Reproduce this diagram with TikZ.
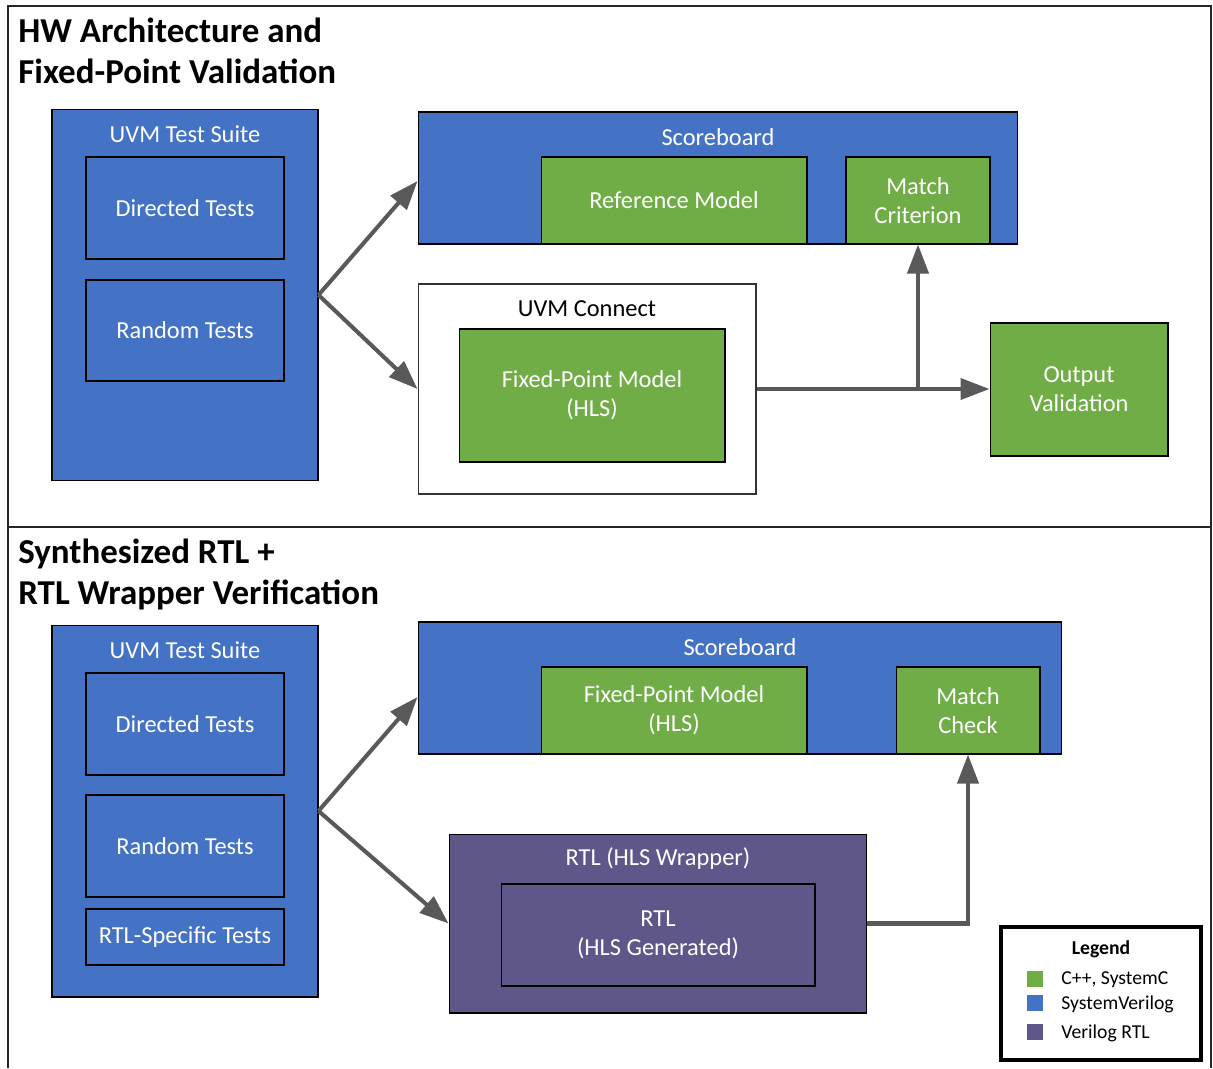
\documentclass[tikz,border=0pt]{standalone}
\usepackage{fontspec}
\setmainfont{Carlito}
\usetikzlibrary{arrows.meta, positioning, calc}

\definecolor{svblue}{HTML}{4472C4}
\definecolor{cppgreen}{HTML}{70AD47}
\definecolor{rtlpurple}{HTML}{5F578A}
\definecolor{arrowgray}{HTML}{595959}

\begin{document}
\begin{tikzpicture}[x=0.02cm, y=-0.02cm,
    boxtext/.style={font=\fontsize{13.9}{16.5}\selectfont, align=center, inner sep=0pt},
    bluebox/.style={draw=black, line width=0.6pt, fill=svblue, text=white, boxtext},
    greenbox/.style={draw=black, line width=0.6pt, fill=cppgreen, text=white, boxtext},
    purplebox/.style={draw=black, line width=0.6pt, fill=rtlpurple, text=white, boxtext},
    whitebox/.style={draw=black!80, line width=0.6pt, fill=white, boxtext},
    title/.style={font=\fontsize{19.9}{23.3}\selectfont\bfseries, align=left, anchor=north west, inner sep=0pt},
    flow/.style={draw=arrowgray, line width=2.3pt, -{Triangle[length=0.58cm, width=0.42cm]}},
    legendtext/.style={font=\fontsize{11.2}{13}\selectfont, anchor=west, inner sep=0pt}]
    \useasboundingbox (0,0) rectangle (1213,1068);

    % panels
    \draw[line width=1.1pt, black!85] (8,6) rectangle (1211,527);
    \draw[line width=1.1pt, black!85] (8,1068) -- (8,527) (1211,527) -- (1211,1068);
    \node[title] (title1) at (18,18) {HW Architecture and\\Fixed-Point Validation};
    \node[title] (title2) at (18,539) {Synthesized RTL +\\RTL Wrapper Verification};

    % top: HW architecture
    \node[bluebox, minimum width=5.32cm, minimum height=7.44cm] (suite1) at (185,295) {};
    \node[boxtext, text=white] (suite1lbl) at (185,134) {UVM Test Suite};
    \node[bluebox, minimum width=3.96cm, minimum height=2.04cm] (dir1) at (185,208) {Directed Tests};
    \node[bluebox, minimum width=3.96cm, minimum height=2.02cm] (rnd1) at (185,330.5) {Random Tests};

    \node[bluebox, minimum width=12cm, minimum height=2.64cm] (score1) at (718,178) {};
    \node[boxtext, text=white] (score1lbl) at (718,137) {Scoreboard};
    \node[greenbox, minimum width=5.32cm, minimum height=1.74cm] (ref1) at (674,200.5) {Reference Model};
    \node[greenbox, minimum width=2.88cm, minimum height=1.74cm] (match1) at (918,200.5) {Match\\Criterion};

    \node[whitebox, minimum width=6.76cm, minimum height=4.2cm] (conn1) at (587,389) {};
    \node[boxtext] (conn1lbl) at (587,309) {UVM Connect};
    \node[greenbox, minimum width=5.32cm, minimum height=2.66cm] (fxp1) at (592,395.5) {Fixed-Point Model\\(HLS)};

    \node[greenbox, minimum width=3.56cm, minimum height=2.66cm] (outv) at (1079,389.5) {Output\\Validation};

    \draw[flow] (suite1.east) -- ([yshift=-0.06cm]score1.west);
    \draw[flow] (suite1.east) -- (conn1.west);
    \draw[flow] (conn1.east) -- (conn1.east -| outv.west);
    \draw[flow] (conn1.east -| match1.south) -- (match1.south);

    % bottom: synthesized RTL
    \node[bluebox, minimum width=5.32cm, minimum height=7.44cm] (suite2) at (185,811) {};
    \node[boxtext, text=white] (suite2lbl) at (185,650) {UVM Test Suite};
    \node[bluebox, minimum width=3.96cm, minimum height=2.04cm] (dir2) at (185,724) {Directed Tests};
    \node[bluebox, minimum width=3.96cm, minimum height=2.04cm] (rnd2) at (185,846) {Random Tests};
    \node[bluebox, minimum width=3.96cm, minimum height=1.12cm] (rtls) at (185,937) {RTL-Specific Tests};

    \node[bluebox, minimum width=12.88cm, minimum height=2.64cm] (score2) at (740,688) {};
    \node[boxtext, text=white] (score2lbl) at (740,647) {Scoreboard};
    \node[greenbox, minimum width=5.32cm, minimum height=1.74cm] (fxp2) at (674,710.5) {Fixed-Point Model\\(HLS)};
    \node[greenbox, minimum width=2.88cm, minimum height=1.74cm] (match2) at (968,710.5) {Match\\Check};

    \node[purplebox, minimum width=8.36cm, minimum height=3.58cm] (wrap) at (658,923.5) {};
    \node[boxtext, text=white] (wraplbl) at (658,859) {RTL (HLS Wrapper)};
    \node[purplebox, minimum width=6.28cm, minimum height=2.04cm] (gen) at (658,935) {RTL\\(HLS Generated)};

    \draw[flow] (suite2.east) -- ([yshift=-0.18cm]score2.west);
    \draw[flow] (suite2.east) -- (wrap.west);
    \draw[flow] (wrap.east) -| (match2.south);

    % legend
    \node[draw=black, line width=2pt, fill=white, minimum width=4cm, minimum height=2.66cm] (legend) at (1101,993.5) {};
    \node[font=\fontsize{11.2}{13}\selectfont\bfseries, inner sep=0pt] (legendlbl) at (1101,949) {Legend};
    \node[fill=cppgreen, minimum size=0.32cm, inner sep=0pt] (keycpp) at (1035,979) {};
    \node[fill=svblue, minimum size=0.32cm, inner sep=0pt] (keysv) at (1035,1003) {};
    \node[fill=rtlpurple, minimum size=0.32cm, inner sep=0pt] (keyrtl) at (1035,1032) {};
    \node[legendtext] (keycpplbl) at (1061,980) {C++, SystemC};
    \node[legendtext] (keysvlbl) at (1061,1004) {SystemVerilog};
    \node[legendtext] (keyrtllbl) at (1061,1033) {Verilog RTL};
\end{tikzpicture}
\end{document}
